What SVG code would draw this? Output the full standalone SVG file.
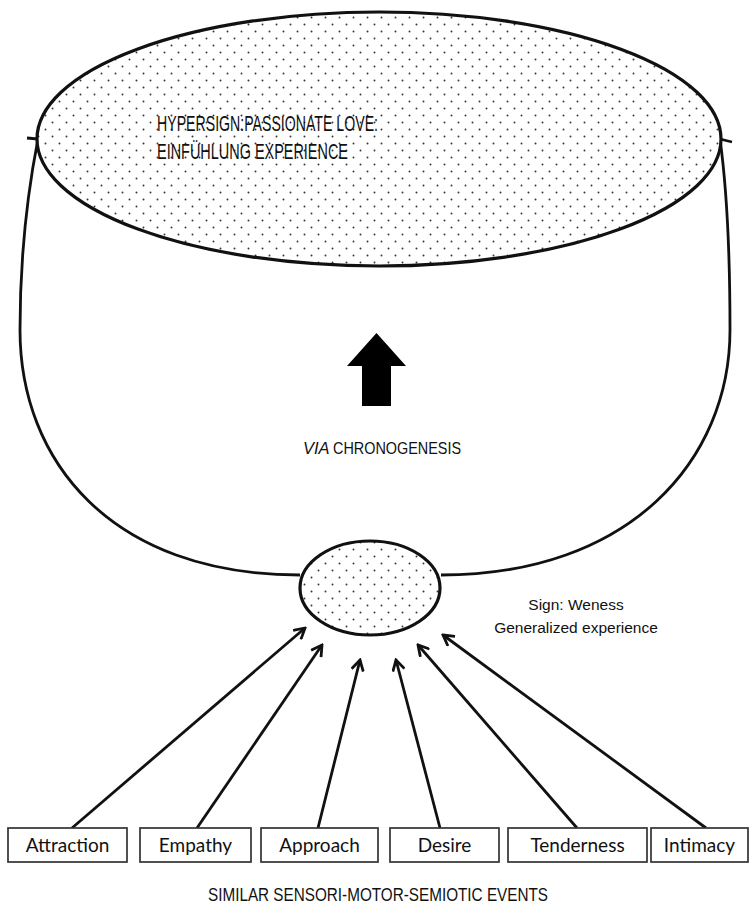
<svg xmlns="http://www.w3.org/2000/svg" width="755" height="922" viewBox="0 0 755 922">
  <defs>
    <!-- stippled fill for the two sign nodes -->
    <pattern id="dots" x="0" y="0" width="14" height="14" patternUnits="userSpaceOnUse">
      <rect width="14" height="14" fill="#ffffff"/>
      <circle cx="3.5" cy="3.5" r="0.95" fill="#333"/>
      <circle cx="10.5" cy="10.5" r="0.95" fill="#333"/>
    </pattern>
    <marker id="head" viewBox="0 0 14 14" refX="12" refY="7" markerWidth="14" markerHeight="14" markerUnits="userSpaceOnUse" orient="auto">
      <path d="M1.5,1 L12,7 L1.5,13" fill="none" stroke="#111" stroke-width="2.8" stroke-linejoin="miter"/>
    </marker>
    <style>
      .line { fill: none; stroke: #111; stroke-width: 2.8; }
      .feed { fill: none; stroke: #111; stroke-width: 2.8; marker-end: url(#head); }
      .sign { fill: url(#dots); stroke: #111; stroke-width: 3.2; }
      .box rect { fill: #fff; stroke: #333; stroke-width: 1.7; }
      .box text { font-family: Lato, "Open Sans", sans-serif; font-size: 19px; fill: #111; text-anchor: middle; }
      .label { font-family: "Liberation Sans", Arial, sans-serif; fill: #111; }
    </style>
  </defs>

  <rect width="755" height="922" fill="#ffffff"/>

  <!-- connectors: the bowl rising from the sign to the hypersign, and the feeding events -->
  <g id="connectors">
    <path class="line" d="M300,575 C110,575 20,460 20,330 C20,250 28,190 38,139"/>
    <path class="line" d="M27,138 L38,139"/>
    <path class="line" d="M441,575 C630,575 730,460 730,330 C730,250 727,190 720,139"/>
    <path class="line" d="M732,142 L720,139"/>

    <path class="feed" d="M72,828 L305,628"/>
    <path class="feed" d="M197,828 L322,645"/>
    <path class="feed" d="M318,828 L360,660"/>
    <path class="feed" d="M440,828 L396,660"/>
    <path class="feed" d="M577,828 L418,645"/>
    <path class="feed" d="M706,828 L443,635"/>
  </g>

  <!-- hypersign -->
  <g id="hypersign">
    <ellipse class="sign" cx="379" cy="139" rx="342" ry="127"/>
    <text class="label" x="157" y="131" font-size="22" textLength="221" lengthAdjust="spacingAndGlyphs">HYPERSIGN:PASSIONATE LOVE:</text>
    <text class="label" x="157" y="159" font-size="22" textLength="191" lengthAdjust="spacingAndGlyphs">EINFÜHLUNG EXPERIENCE</text>
  </g>

  <!-- upward movement -->
  <g id="chronogenesis">
    <polygon points="376.5,333 406,366 391,366 391,406 362,406 362,366 347,366" fill="#000"/>
    <text class="label" x="303" y="454" font-size="16.5" font-style="italic">VIA</text>
    <text class="label" x="333" y="454" font-size="16.5" textLength="128" lengthAdjust="spacingAndGlyphs">CHRONOGENESIS</text>
  </g>

  <!-- sign: weness -->
  <g id="sign">
    <ellipse class="sign" cx="370" cy="588" rx="70" ry="47"/>
    <text class="label" x="576" y="610" font-size="15.5" text-anchor="middle">Sign: Weness</text>
    <text class="label" x="576" y="633" font-size="15.5" text-anchor="middle">Generalized experience</text>
  </g>

  <!-- events -->
  <g id="attraction" class="box">
    <rect x="8" y="828" width="119" height="34"/>
    <text x="67.5" y="852">Attraction</text>
  </g>
  <g id="empathy" class="box">
    <rect x="140" y="828" width="111" height="34"/>
    <text x="195.5" y="852">Empathy</text>
  </g>
  <g id="approach" class="box">
    <rect x="261" y="828" width="117" height="34"/>
    <text x="319.5" y="852">Approach</text>
  </g>
  <g id="desire" class="box">
    <rect x="390" y="828" width="109" height="34"/>
    <text x="444.5" y="852">Desire</text>
  </g>
  <g id="tenderness" class="box">
    <rect x="508" y="828" width="139" height="34"/>
    <text x="577.5" y="852">Tenderness</text>
  </g>
  <g id="intimacy" class="box">
    <rect x="651" y="828" width="97" height="34"/>
    <text x="699.5" y="852">Intimacy</text>
  </g>

  <g id="caption">
    <text class="label" x="378" y="901" font-size="17.5" text-anchor="middle" textLength="340" lengthAdjust="spacingAndGlyphs">SIMILAR SENSORI-MOTOR-SEMIOTIC EVENTS</text>
  </g>
</svg>
